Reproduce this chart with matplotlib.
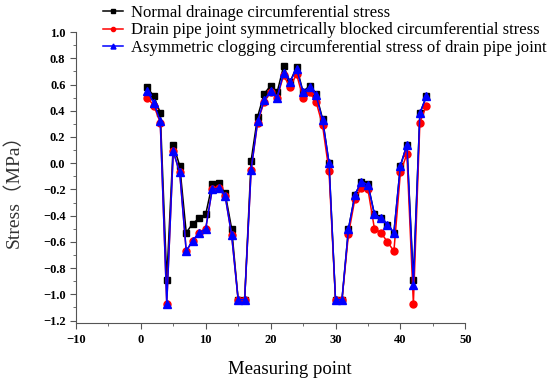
import matplotlib.pyplot as plt
from matplotlib.ticker import MultipleLocator

# measuring points 1..44
points = list(range(1, 45))

normal = [0.58, 0.51, 0.385, -0.89, 0.14, -0.02, -0.53, -0.46, -0.42, -0.39,
          -0.16, -0.15, -0.23, -0.50, -1.04, -1.04, 0.02, 0.355, 0.53, 0.59,
          0.54, 0.74, 0.62, 0.735, 0.545, 0.59, 0.53, 0.34, 0.0, -1.04,
          -1.04, -0.50, -0.24, -0.14, -0.16, -0.39, -0.42, -0.47, -0.53, -0.02,
          0.14, -0.89, 0.38, 0.51]

symmetric = [0.50, 0.44, 0.31, -1.07, 0.09, -0.07, -0.67, -0.59, -0.53, -0.50,
             -0.20, -0.19, -0.25, -0.55, -1.04, -1.04, -0.05, 0.31, 0.47, 0.54,
             0.50, 0.67, 0.58, 0.68, 0.495, 0.54, 0.47, 0.29, -0.06, -1.04,
             -1.04, -0.54, -0.27, -0.19, -0.20, -0.50, -0.53, -0.60, -0.67, -0.07,
             0.07, -1.07, 0.31, 0.44]

asymmetric = [0.55, 0.46, 0.32, -1.07, 0.09, -0.07, -0.67, -0.59, -0.53, -0.50,
              -0.20, -0.19, -0.25, -0.55, -1.04, -1.04, -0.05, 0.32, 0.48, 0.55,
              0.50, 0.69, 0.62, 0.72, 0.54, 0.58, 0.52, 0.33, 0.005, -1.04,
              -1.04, -0.50, -0.24, -0.14, -0.165, -0.39, -0.42, -0.47, -0.53, -0.02,
              0.14, -0.93, 0.38, 0.51]

labels = ["Normal drainage circumferential stress",
          "Drain pipe joint symmetrically blocked circumferential stress",
          "Asymmetric clogging circumferential stress of drain pipe joint"]

serif = ['Liberation Serif', 'Noto Sans CJK SC']
plt.rcParams['font.family'] = serif
plt.rcParams['axes.unicode_minus'] = True

fig = plt.figure(figsize=(5.5, 3.82), dpi=100)
ax = fig.add_axes([0.138, 0.154, 0.708, 0.762])

ax.plot(points, normal, color='black', marker='s', ms=5, lw=1.1, label=labels[0])
ax.plot(points, symmetric, color='red', marker='o', ms=5, lw=1.1, label=labels[1])
ax.plot(points, asymmetric, color='blue', marker='^', ms=6, lw=1.1, label=labels[2])

ax.set_xlim(-10, 50)
ax.set_ylim(-1.22, 1.0)
ax.xaxis.set_major_locator(MultipleLocator(10))
ax.xaxis.set_minor_locator(MultipleLocator(5))
ax.yaxis.set_major_locator(MultipleLocator(0.2))
ax.yaxis.set_minor_locator(MultipleLocator(0.1))
ax.yaxis.set_major_formatter(plt.FuncFormatter(lambda v, p: f"{v:.1f}".replace('-', '\u2212')))

for s in ['top', 'right']:
    ax.spines[s].set_visible(False)
for s in ['left', 'bottom']:
    ax.spines[s].set_color('#555555')
ax.tick_params(which='both', direction='out', colors='#555555', labelcolor='black')
ax.tick_params(which='major', length=4, labelsize=9)
ax.tick_params(which='minor', length=2.5)
for t in ax.get_xticklabels() + ax.get_yticklabels():
    t.set_fontweight('bold')

ax.set_xlabel("Measuring point", fontsize=13.5)
ax.xaxis.set_label_coords(0.55, -0.13)
ax.set_ylabel("Stress（MPa）", fontsize=14, family=serif, color='#333333')
ax.yaxis.set_label_coords(-0.135, 0.47)

fig.legend(loc='upper left', bbox_to_anchor=(0.175, 1.005), frameon=False,
           fontsize=12, handlelength=1.2, handletextpad=0.5, labelspacing=0.1,
           markerscale=0.6, borderaxespad=0)

fig.savefig("out.png", dpi=100)
